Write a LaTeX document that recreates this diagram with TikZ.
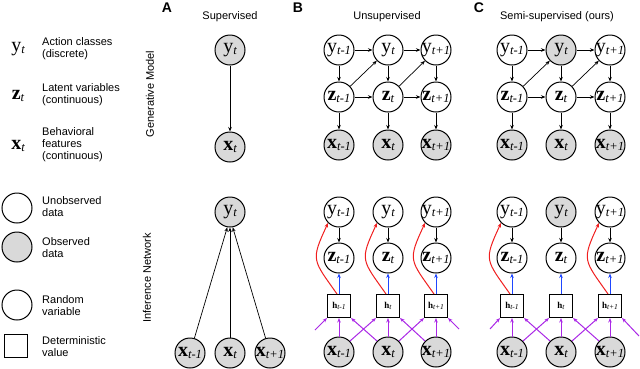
\documentclass[tikz,border=0pt]{standalone}
\usepackage{fontspec}
\setmainfont{Liberation Serif}
\setsansfont{Liberation Sans}
\usetikzlibrary{arrows.meta}
\definecolor{obsgray}{RGB}{217,217,217}
\definecolor{infred}{RGB}{240,30,30}
\definecolor{infblue}{RGB}{30,70,255}
\definecolor{infpurple}{RGB}{170,40,230}
\newcommand{\varlab}[2]{\makebox[0pt]{\fontsize{20}{20}\selectfont #1\raisebox{-2.5pt}{\fontsize{12.5}{12.5}\selectfont\itshape #2}}}
\newcommand{\hlab}[1]{\makebox[0pt]{\fontsize{9}{9}\selectfont\textbf{h}\raisebox{-1.4pt}{\fontsize{7.5}{7.5}\selectfont\itshape #1}}}
\begin{document}
\begin{tikzpicture}[
    x=1pt,y=-1pt,
    rv/.style={circle,draw,line width=1pt,minimum size=30pt,inner sep=0pt},
    obs/.style={rv,fill=obsgray},
    detbox/.style={rectangle,draw,line width=1pt,minimum size=23pt,inner sep=0pt},
    txt/.style={font=\sffamily\fontsize{11}{12}\selectfont,align=left,anchor=west,inner sep=0pt},
    ttl/.style={font=\sffamily\fontsize{11}{12}\selectfont},
    pnl/.style={font=\sffamily\bfseries\fontsize{14}{14}\selectfont},
    gen/.style={->,line width=0.7pt},
    toz/.style={->,line width=1pt,infblue},
    toy/.style={->,line width=1pt,infred},
    toh/.style={->,line width=1pt,infpurple},
    >={Stealth[length=4.5pt,width=3.5pt]}
]
\useasboundingbox (0,0) rectangle (640,368);

\node (legY) at (18,49) {\varlab{y}{t}};
\node[txt] (legYtxt) at (42,49) {Action classes\\(discrete)};
\node (legZ) at (18,96) {\varlab{\textbf{z}}{t}};
\node[txt] (legZtxt) at (42,95) {Latent variables\\(continuous)};
\node (legX) at (18,146) {\varlab{\textbf{x}}{t}};
\node[txt] (legXtxt) at (42,145) {Behavioral\\features\\(continuous)};
\node[rv] (legU) at (17,208) {};
\node[txt] (legUtxt) at (42,207) {Unobserved\\data};
\node[obs] (legO) at (17,247) {};
\node[txt] (legOtxt) at (42,248) {Observed\\data};
\node[rv] (legR) at (17,305) {};
\node[txt] (legRtxt) at (42,306) {Random\\variable};
\node[detbox] (legD) at (16,346) {};
\node[txt] (legDtxt) at (42,347) {Deterministic\\value};

\node[ttl,rotate=90] (genlab) at (150,94) {Generative Model};
\node[ttl,rotate=90] (inflab) at (147,278) {Inference Network};

\node[pnl] (pA) at (167,8) {A};
\node[pnl] (pB) at (298,8) {B};
\node[pnl] (pC) at (479,8) {C};
\node[ttl] (tA) at (230,17) {Supervised};
\node[ttl] (tB) at (387,17) {Unsupervised};
\node[ttl] (tC) at (557,17) {Semi-supervised (ours)};

\node[obs] (yA) at (230,50) {\varlab{y}{t}};
\node[obs] (xA) at (230,147) {\varlab{\textbf{x}}{t}};
\draw[gen] (yA)--(xA);

\node[obs] (yAi) at (230,212) {\varlab{y}{t}};
\node[obs] (xAi1) at (190,353) {\varlab{\textbf{x}}{t-1}};
\node[obs] (xAi2) at (230,353) {\varlab{\textbf{x}}{t}};
\node[obs] (xAi3) at (270,353) {\varlab{\textbf{x}}{t+1}};
\draw[gen] (xAi1)--(yAi.-100);
\draw[gen] (xAi2)--(yAi.south);
\draw[gen] (xAi3)--(yAi.-80);

\node[rv] (yB1) at (339,50) {\varlab{y}{t-1}};
\node[rv] (yB2) at (388,50) {\varlab{y}{t}};
\node[rv] (yB3) at (436,50) {\varlab{y}{t+1}};
\node[rv] (zB1) at (339,97) {\varlab{\textbf{z}}{t-1}};
\node[rv] (zB2) at (388,97) {\varlab{\textbf{z}}{t}};
\node[rv] (zB3) at (436,97) {\varlab{\textbf{z}}{t+1}};
\node[obs] (xB1) at (339,145) {\varlab{\textbf{x}}{t-1}};
\node[obs] (xB2) at (388,145) {\varlab{\textbf{x}}{t}};
\node[obs] (xB3) at (436,145) {\varlab{\textbf{x}}{t+1}};
\draw[gen] (yB1)--(yB2);
\draw[gen] (yB2)--(yB3);
\draw[gen] (zB1)--(zB2);
\draw[gen] (zB2)--(zB3);
\draw[gen] (yB1)--(zB1);
\draw[gen] (yB2)--(zB2);
\draw[gen] (yB3)--(zB3);
\draw[gen] (zB1)--(xB1);
\draw[gen] (zB2)--(xB2);
\draw[gen] (zB3)--(xB3);
\draw[gen] (zB1)--(yB2);
\draw[gen] (zB2)--(yB3);

\node[rv] (yC1) at (512,50) {\varlab{y}{t-1}};
\node[obs] (yC2) at (561,50) {\varlab{y}{t}};
\node[rv] (yC3) at (610,50) {\varlab{y}{t+1}};
\node[rv] (zC1) at (512,97) {\varlab{\textbf{z}}{t-1}};
\node[rv] (zC2) at (561,97) {\varlab{\textbf{z}}{t}};
\node[rv] (zC3) at (610,97) {\varlab{\textbf{z}}{t+1}};
\node[obs] (xC1) at (512,145) {\varlab{\textbf{x}}{t-1}};
\node[obs] (xC2) at (561,145) {\varlab{\textbf{x}}{t}};
\node[obs] (xC3) at (610,145) {\varlab{\textbf{x}}{t+1}};
\draw[gen] (yC1)--(yC2);
\draw[gen] (yC2)--(yC3);
\draw[gen] (zC1)--(zC2);
\draw[gen] (zC2)--(zC3);
\draw[gen] (yC1)--(zC1);
\draw[gen] (yC2)--(zC2);
\draw[gen] (yC3)--(zC3);
\draw[gen] (zC1)--(xC1);
\draw[gen] (zC2)--(xC2);
\draw[gen] (zC3)--(xC3);
\draw[gen] (zC1)--(yC2);
\draw[gen] (zC2)--(yC3);

\node[rv] (yBi1) at (339,212) {\varlab{y}{t-1}};
\node[rv] (yBi2) at (388,212) {\varlab{y}{t}};
\node[rv] (yBi3) at (436,212) {\varlab{y}{t+1}};
\node[rv] (zBi1) at (339,258) {\varlab{\textbf{z}}{t-1}};
\node[rv] (zBi2) at (388,258) {\varlab{\textbf{z}}{t}};
\node[rv] (zBi3) at (436,258) {\varlab{\textbf{z}}{t+1}};
\node[detbox] (hBi1) at (339,306) {\hlab{t-1}};
\node[detbox] (hBi2) at (388,306) {\hlab{t}};
\node[detbox] (hBi3) at (436,306) {\hlab{t+1}};
\node[obs] (xBi1) at (339,352) {\varlab{\textbf{x}}{t-1}};
\node[obs] (xBi2) at (388,352) {\varlab{\textbf{x}}{t}};
\node[obs] (xBi3) at (436,352) {\varlab{\textbf{x}}{t+1}};
\coordinate (inBl) at (315,330);
\coordinate (inBr) at (459,329);
\draw[gen] (yBi1)--(zBi1);
\draw[gen] (yBi2)--(zBi2);
\draw[gen] (yBi3)--(zBi3);
\draw[toz] (hBi1)--(zBi1);
\draw[toz] (hBi2)--(zBi2);
\draw[toz] (hBi3)--(zBi3);
\draw[toy] ([xshift=-2pt]hBi1.north) to[out=125,in=-115,looseness=1.5] (yBi1.-135);
\draw[toy] ([xshift=-2pt]hBi2.north) to[out=125,in=-115,looseness=1.5] (yBi2.-135);
\draw[toy] ([xshift=-2pt]hBi3.north) to[out=125,in=-115,looseness=1.5] (yBi3.-135);
\draw[toh] (xBi1)--(hBi1);
\draw[toh] (xBi2)--(hBi2);
\draw[toh] (xBi3)--(hBi3);
\draw[toh] (xBi1.45)--(hBi2.south west);
\draw[toh] (xBi2.135)--(hBi1.south east);
\draw[toh] (xBi2.45)--(hBi3.south west);
\draw[toh] (xBi3.135)--(hBi2.south east);
\draw[toh] (inBl)--(hBi1.south west);
\draw[toh] (inBr)--(hBi3.south east);

\node[rv] (yCi1) at (512,212) {\varlab{y}{t-1}};
\node[obs] (yCi2) at (561,212) {\varlab{y}{t}};
\node[rv] (yCi3) at (610,212) {\varlab{y}{t+1}};
\node[rv] (zCi1) at (512,258) {\varlab{\textbf{z}}{t-1}};
\node[rv] (zCi2) at (561,258) {\varlab{\textbf{z}}{t}};
\node[rv] (zCi3) at (610,258) {\varlab{\textbf{z}}{t+1}};
\node[detbox] (hCi1) at (512,306) {\hlab{t-1}};
\node[detbox] (hCi2) at (561,306) {\hlab{t}};
\node[detbox] (hCi3) at (610,306) {\hlab{t+1}};
\node[obs] (xCi1) at (512,352) {\varlab{\textbf{x}}{t-1}};
\node[obs] (xCi2) at (561,352) {\varlab{\textbf{x}}{t}};
\node[obs] (xCi3) at (610,352) {\varlab{\textbf{x}}{t+1}};
\coordinate (inCl) at (490,329);
\coordinate (inCr) at (639,336);
\draw[gen] (yCi1)--(zCi1);
\draw[gen] (yCi2)--(zCi2);
\draw[gen] (yCi3)--(zCi3);
\draw[toz] (hCi1)--(zCi1);
\draw[toz] (hCi2)--(zCi2);
\draw[toz] (hCi3)--(zCi3);
\draw[toy] ([xshift=-2pt]hCi1.north) to[out=125,in=-115,looseness=1.5] (yCi1.-135);
\draw[toy] ([xshift=-2pt]hCi3.north) to[out=125,in=-115,looseness=1.5] (yCi3.-135);
\draw[toh] (xCi1)--(hCi1);
\draw[toh] (xCi2)--(hCi2);
\draw[toh] (xCi3)--(hCi3);
\draw[toh] (xCi1.45)--(hCi2.south west);
\draw[toh] (xCi2.135)--(hCi1.south east);
\draw[toh] (xCi2.45)--(hCi3.south west);
\draw[toh] (xCi3.135)--(hCi2.south east);
\draw[toh] (inCl)--(hCi1.south west);
\draw[toh] (inCr)--(hCi3.south east);
\end{tikzpicture}
\end{document}
